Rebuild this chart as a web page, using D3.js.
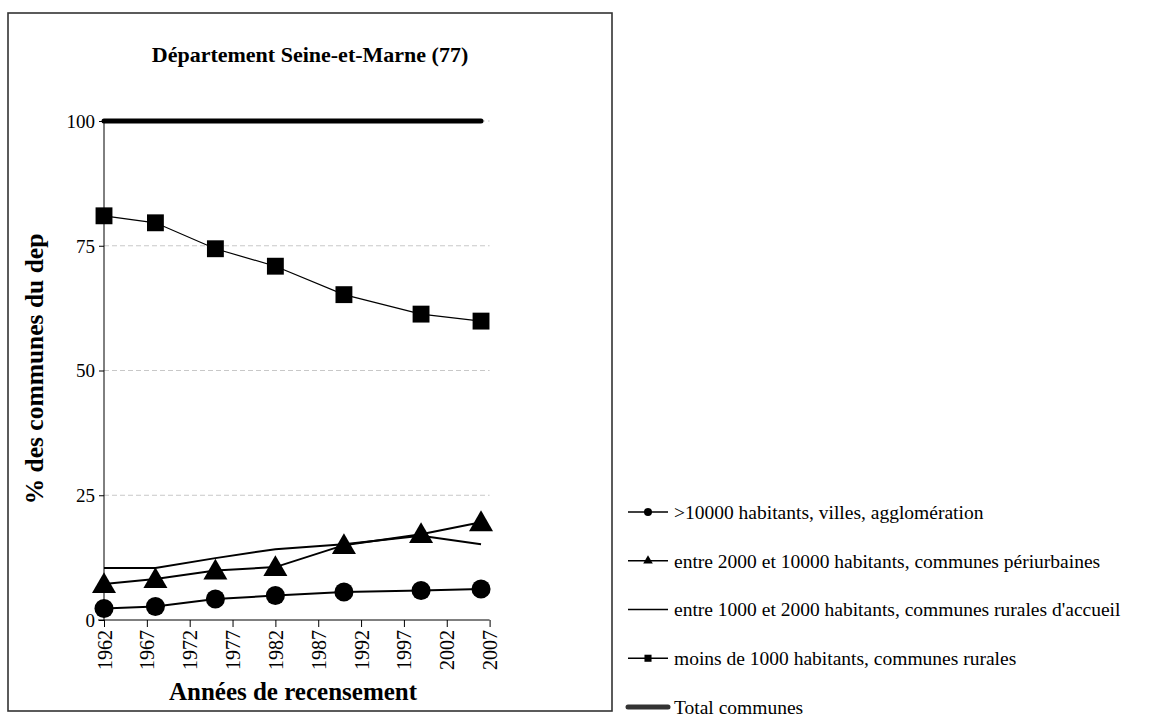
<!DOCTYPE html>
<html>
<head>
<meta charset="utf-8">
<script src="https://cdn.jsdelivr.net/npm/d3@7"></script>
<style>
  body { margin: 0; background: #fff; }
  svg text { font-family: "Liberation Serif", "Times New Roman", serif !important; fill: #000; }
</style>
</head>
<body>
<div id="chart"></div>
<script>
// census years and values (% of communes of the departement)
var years = [1962, 1968, 1975, 1982, 1990, 1999, 2006];
var xTicks = [1962, 1967, 1972, 1977, 1982, 1987, 1992, 1997, 2002, 2007];
var yTicks = [0, 25, 50, 75, 100];

var villes = [2.3, 2.7, 4.2, 4.9, 5.6, 5.9, 6.2];
var periurbaines = [7.2, 8.2, 9.9, 10.6, 15.0, 17.2, 19.6];
var ruralesAccueil = [10.4, 10.4, 12.4, 14.2, 15.2, 16.9, 15.2];
var rurales = [81.0, 79.6, 74.4, 70.9, 65.2, 61.3, 59.9];
var total = [100, 100, 100, 100, 100, 100, 100];

var seriesNames = [
    ">10000 habitants, villes, agglomération",
    "entre 2000 et 10000 habitants, communes périurbaines",
    "entre 1000 et 2000 habitants, communes rurales d'accueil",
    "moins de 1000 habitants, communes rurales",
    "Total communes"
];

var title = "Département Seine-et-Marne (77)";
var xTitle = "Années de recensement";
var yTitle = "% des communes du dep";

function draw_chart() {
    var width = 1171, height = 718;
    var serif = '"Liberation Serif", "Times New Roman", serif';

    var svg = d3.select("#chart")
        .append("svg")
        .attr("width", width)
        .attr("height", height);

    // chart frame
    svg.append("rect")
        .attr("x", 8).attr("y", 13)
        .attr("width", 604).attr("height", 698)
        .attr("fill", "none")
        .attr("stroke", "#333")
        .attr("stroke-width", 1.6);

    var x = d3.scaleLinear().domain([1962, 2007]).range([104, 489.6]);
    var y = d3.scaleLinear().domain([0, 100]).range([620, 121]);

    // grid
    svg.append("g")
        .selectAll("line")
        .data(yTicks.filter(function(d) { return d > 0; }))
        .enter().append("line")
        .attr("x1", x(1962)).attr("x2", x(2007))
        .attr("y1", function(d) { return y(d); })
        .attr("y2", function(d) { return y(d); })
        .attr("stroke", "#c8c8c8")
        .attr("stroke-dasharray", "5,3")
        .attr("stroke-width", 1);

    var yAxis = d3.axisLeft(y).tickValues(yTicks).tickSize(5).tickPadding(4);
    var gy = svg.append("g")
        .attr("transform", "translate(" + x(1962) + ",0)")
        .attr("font-family", serif)
        .call(yAxis);
    gy.select(".domain").attr("stroke", "#000").attr("d", "M0," + y(0) + "V" + y(100));
    gy.selectAll(".tick line").attr("stroke", "#000");
    gy.selectAll("text").style("font-size", "19px").attr("dy", "0.34em");

    var xAxis = d3.axisBottom(x).tickValues(xTicks).tickSize(7).tickFormat(d3.format("d"));
    var gx = svg.append("g")
        .attr("transform", "translate(0," + y(0) + ")")
        .attr("font-family", serif)
        .call(xAxis);
    gx.select(".domain").attr("stroke", "#000").attr("d", "M" + (x(1962) - 6) + ",0H" + x(2007));
    gx.selectAll(".tick line").attr("stroke", "#000");
    gx.selectAll("text")
        .style("font-size", "20px")
        .attr("text-anchor", "end")
        .attr("transform", "rotate(-90)")
        .attr("x", -10).attr("y", 0).attr("dy", "0.35em");

    function series(vals) {
        return years.map(function(yr, i) { return {yr: yr, v: vals[i]}; });
    }
    var line = d3.line()
        .x(function(d) { return x(d.yr); })
        .y(function(d) { return y(d.v); });

    // total line
    svg.append("path")
        .datum(series(total))
        .attr("d", line)
        .attr("fill", "none")
        .attr("stroke", "#000")
        .attr("stroke-width", 5)
        .attr("stroke-linecap", "round");

    var defs = [
        {vals: rurales, sym: d3.symbolSquare, size: 285, w: 1.2},
        {vals: ruralesAccueil, sym: null, w: 2},
        {vals: periurbaines, sym: d3.symbolTriangle, size: 250, w: 2},
        {vals: villes, sym: d3.symbolCircle, size: 285, w: 2}
    ];

    defs.forEach(function(s) {
        svg.append("path")
            .datum(series(s.vals))
            .attr("d", line)
            .attr("fill", "none")
            .attr("stroke", "#000")
            .attr("stroke-width", s.w);
        if (s.sym) {
            svg.append("g")
                .selectAll("path")
                .data(series(s.vals))
                .enter().append("path")
                .attr("transform", function(d) {
                    var dy = s.sym === d3.symbolTriangle ? 2 : 0;
                    return "translate(" + x(d.yr) + "," + (y(d.v) + dy) + ")";
                })
                .attr("d", d3.symbol().type(s.sym).size(s.size))
                .attr("fill", "#000");
        }
    });

    // titles
    svg.append("text")
        .attr("x", 310).attr("y", 62)
        .attr("text-anchor", "middle")
        .style("font-size", "22px")
        .style("font-weight", "bold")
        .text(title);

    svg.append("text")
        .attr("x", 293).attr("y", 700)
        .attr("text-anchor", "middle")
        .style("font-size", "25px")
        .style("font-weight", "bold")
        .text(xTitle);

    svg.append("text")
        .attr("transform", "translate(43,369) rotate(-90)")
        .attr("text-anchor", "middle")
        .style("font-size", "25.5px")
        .style("font-weight", "bold")
        .text(yTitle);

    // legend
    var legendMarks = [
        {sym: d3.symbolCircle, size: 50, w: 1.5},
        {sym: d3.symbolTriangle, size: 40, w: 1.5},
        {sym: null, w: 1.5},
        {sym: d3.symbolSquare, size: 50, w: 1.5},
        {sym: null, w: 5, cap: "round"}
    ];
    var ly = d3.scalePoint().domain(d3.range(5)).range([512, 707]);
    var lg = svg.append("g")
        .selectAll("g")
        .data(seriesNames)
        .enter().append("g")
        .attr("transform", function(d, i) { return "translate(0," + ly(i) + ")"; });

    lg.append("line")
        .attr("x1", 628).attr("x2", 668)
        .attr("stroke", function(d, i) { return i === 4 ? "#333" : "#000"; })
        .attr("stroke-width", function(d, i) { return legendMarks[i].w; })
        .attr("stroke-linecap", function(d, i) { return legendMarks[i].cap || "butt"; });

    lg.filter(function(d, i) { return legendMarks[i].sym; })
        .append("path")
        .attr("transform", "translate(648,0)")
        .attr("d", function(d) {
            var m = legendMarks[seriesNames.indexOf(d)];
            return d3.symbol().type(m.sym).size(m.size)();
        })
        .attr("fill", "#000");

    lg.append("text")
        .attr("x", 674)
        .attr("dy", "0.35em")
        .style("font-family", serif)
        .style("font-size", "19.5px")
        .text(function(d) { return d; });
}

draw_chart();
</script>
</body>
</html>
